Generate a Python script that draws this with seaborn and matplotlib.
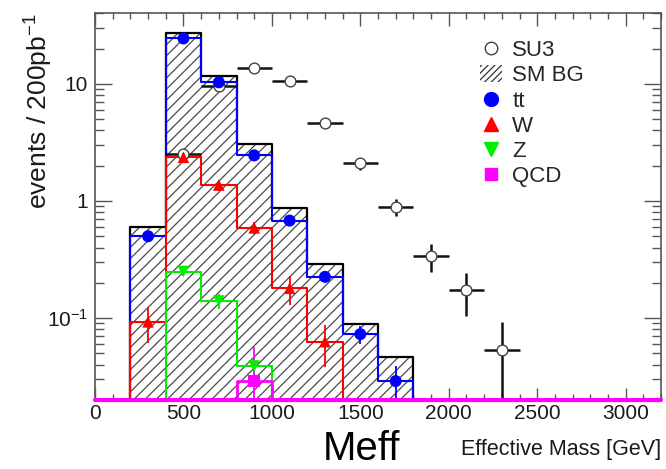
import numpy as np
import matplotlib
matplotlib.use("Agg")
import matplotlib.pyplot as plt
from matplotlib.lines import Line2D
from matplotlib.patches import Patch
from matplotlib.ticker import FixedLocator, FuncFormatter, LogLocator, NullFormatter
import seaborn as sns

# ---- binning (GeV) ----
bin_edges = list(range(0, 3400, 200))
bin_centers = [e + 100 for e in bin_edges[:-1]]

# ---- background histograms, events / 200 pb^-1 per 200 GeV bin ----
sm_bg = [0, 0.60, 27.0, 11.7, 3.04, 0.87, 0.29, 0.089, 0.047, 0, 0, 0, 0, 0, 0, 0]
tt    = [0, 0.50, 24.4, 10.3, 2.45, 0.68, 0.225, 0.073, 0.029, 0, 0, 0, 0, 0, 0, 0]
w_jet = [0, 0.093, 2.36, 1.37, 0.59, 0.18, 0.063, 0, 0, 0, 0, 0, 0, 0, 0, 0]
z_jet = [0, 0, 0.25, 0.14, 0.039, 0, 0, 0, 0, 0, 0, 0, 0, 0, 0, 0]
qcd   = [0, 0, 0, 0, 0.029, 0, 0, 0, 0, 0, 0, 0, 0, 0, 0, 0]

# statistical errors of the background points
tt_err  = [0, 0.03, 0.6, 0.4, 0.2, 0.07, 0.02, 0.013, 0.01, 0, 0, 0, 0, 0, 0, 0]
w_err   = [0, 0.032, 0.2, 0.15, 0.07, 0.05, 0.025, 0, 0, 0, 0, 0, 0, 0, 0, 0]
z_err   = [0, 0, 0.02, 0.02, 0.006, 0, 0, 0, 0, 0, 0, 0, 0, 0, 0, 0]
qcd_err = [0, 0, 0, 0, 0.028, 0, 0, 0, 0, 0, 0, 0, 0, 0, 0, 0]

# ---- SUSY benchmark SU3 ----
su3_x   = [500, 700, 900, 1100, 1300, 1500, 1700, 1900, 2100, 2300]
su3_y   = [2.5, 9.6, 13.7, 10.5, 4.6, 2.1, 0.89, 0.34, 0.174, 0.053]
su3_err = [0.3, 0.6, 0.7, 0.6, 0.4, 0.25, 0.15, 0.09, 0.07, 0.04]

x_ticks = [0, 500, 1000, 1500, 2000, 2500, 3000]
y_range = (0.02, 40)

sns.set_style("ticks")
plt.rcParams["font.family"] = ["Liberation Sans", "DejaVu Sans"]
plt.rcParams["mathtext.default"] = "regular"
plt.rcParams["hatch.linewidth"] = 0.9

fig = plt.figure(figsize=(6.66, 4.69), dpi=100)
ax = fig.add_axes([95 / 666, 1 - 400 / 469, 566 / 666, (400 - 13.3) / 469])

# hatched total background
ax.fill_between(bin_edges, np.r_[sm_bg, sm_bg[-1]], 1e-6, step="post",
                facecolor="white", edgecolor="#4a4a4a", hatch="///",
                linewidth=0, zorder=1)

def step_hist(values, color, lw=1.5, z=2):
    sns.histplot(x=bin_centers, weights=values, bins=bin_edges, element="step",
                 fill=False, color=color, linewidth=lw, ax=ax, zorder=z)

step_hist(sm_bg, "black", lw=1.6, z=2)
step_hist(tt, "#0000ff", z=3)
step_hist(w_jet, "#ff0000", z=3)
step_hist(z_jet, "#00ee00", z=3)

# SU3 signal points with bin-width horizontal bars
ax.errorbar(su3_x, su3_y, xerr=100, yerr=su3_err, fmt="none", ecolor="#111111",
            elinewidth=1.8, capsize=0, zorder=3.4)
sns.scatterplot(x=su3_x, y=su3_y, marker="o", s=60, facecolor="white",
                edgecolor="#444444", linewidth=1.0, ax=ax, zorder=3.5)

def points(values, errs, color, marker, ms):
    xs = [c for c, v in zip(bin_centers, values) if v > 0]
    ys = [v for v in values if v > 0]
    es = [e for e, v in zip(errs, values) if v > 0]
    ax.errorbar(xs, ys, yerr=es, fmt="none", ecolor=color, elinewidth=1.3,
                capsize=0, zorder=4)
    sns.scatterplot(x=xs, y=ys, color=color, marker=marker, s=ms,
                    edgecolor="none", ax=ax, zorder=5)

points(tt, tt_err, "#0000ff", "o", 75)
points(w_jet, w_err, "#ff0000", "^", 70)
points(z_jet, z_err, "#00ee00", "v", 70)
points(qcd, qcd_err, "#ff00ff", "s", 70)
step_hist(qcd, "#ff00ff", lw=2.0, z=8)
# empty QCD bins sit on the floor of the log axis
ax.axhline(y_range[0], color="#ff00ff", lw=3.0, zorder=9, clip_on=False)

ax.set_yscale("log")
ax.set_xlim(0, 3200)
ax.set_ylim(*y_range)
ax.set_xlabel("")

ax.xaxis.set_major_locator(FixedLocator(x_ticks))
ax.xaxis.set_minor_locator(FixedLocator(list(range(0, 3300, 100))))
ax.yaxis.set_major_locator(LogLocator(base=10, numticks=10))
ax.yaxis.set_minor_locator(LogLocator(base=10, subs=np.arange(2, 10), numticks=20))
ax.yaxis.set_minor_formatter(NullFormatter())

def ylab(v, pos):
    if abs(v - 1) < 1e-9:
        return "1"
    if abs(v - 10) < 1e-9:
        return "10"
    exp = int(round(np.log10(v)))
    return r"$10^{%d}$" % exp

ax.yaxis.set_major_formatter(FuncFormatter(ylab))

for s in ax.spines.values():
    s.set_visible(True)
    s.set_color("#555555")
    s.set_linewidth(1.2)

ax.tick_params(which="both", direction="in", top=True, right=True,
               colors="#555555", labelcolor="#1a1a1a", labelsize=15, width=1.0)
ax.tick_params(axis="x", which="major", length=9, pad=3)
ax.tick_params(axis="x", which="minor", length=4.5)
ax.tick_params(axis="y", which="major", length=12, pad=5)
ax.tick_params(axis="y", which="minor", length=6.5)

ax.set_ylabel(r"events / 200pb$^{-1}$", fontsize=19, loc="top", color="#1a1a1a")
ax.yaxis.set_label_coords(-0.07, 1.0)

handles = [
    Line2D([], [], ls="none", marker="o", ms=9, mfc="white", mec="#444444", mew=1.0),
    Patch(facecolor="white", edgecolor="#333333", hatch="/////", linewidth=0),
    Line2D([], [], ls="none", marker="o", ms=10, color="#0000ff"),
    Line2D([], [], ls="none", marker="^", ms=10, color="#ff0000"),
    Line2D([], [], ls="none", marker="v", ms=10, color="#00ee00"),
    Line2D([], [], ls="none", marker="s", ms=9, color="#ff00ff"),
]
labels = ["SU3", "SM BG", "tt", "W", "Z", "QCD"]
ax.legend(handles, labels, loc="upper left", bbox_to_anchor=(480 / 666, 1 - 40 / 469),
          bbox_transform=fig.transFigure, frameon=False, fontsize=16,
          handlelength=1.0, handleheight=0.8, handletextpad=0.45,
          labelspacing=0.18, borderpad=0, borderaxespad=0)

fig.text(362 / 666, 1.5 / 469, "Meff", fontsize=29, ha="center",
         va="bottom", color="black")
fig.text(661 / 666, 1 - 455 / 469, "Effective Mass [GeV]", fontsize=15.5,
         ha="right", va="baseline", color="#1a1a1a")

fig.savefig("out.png", dpi=100)
